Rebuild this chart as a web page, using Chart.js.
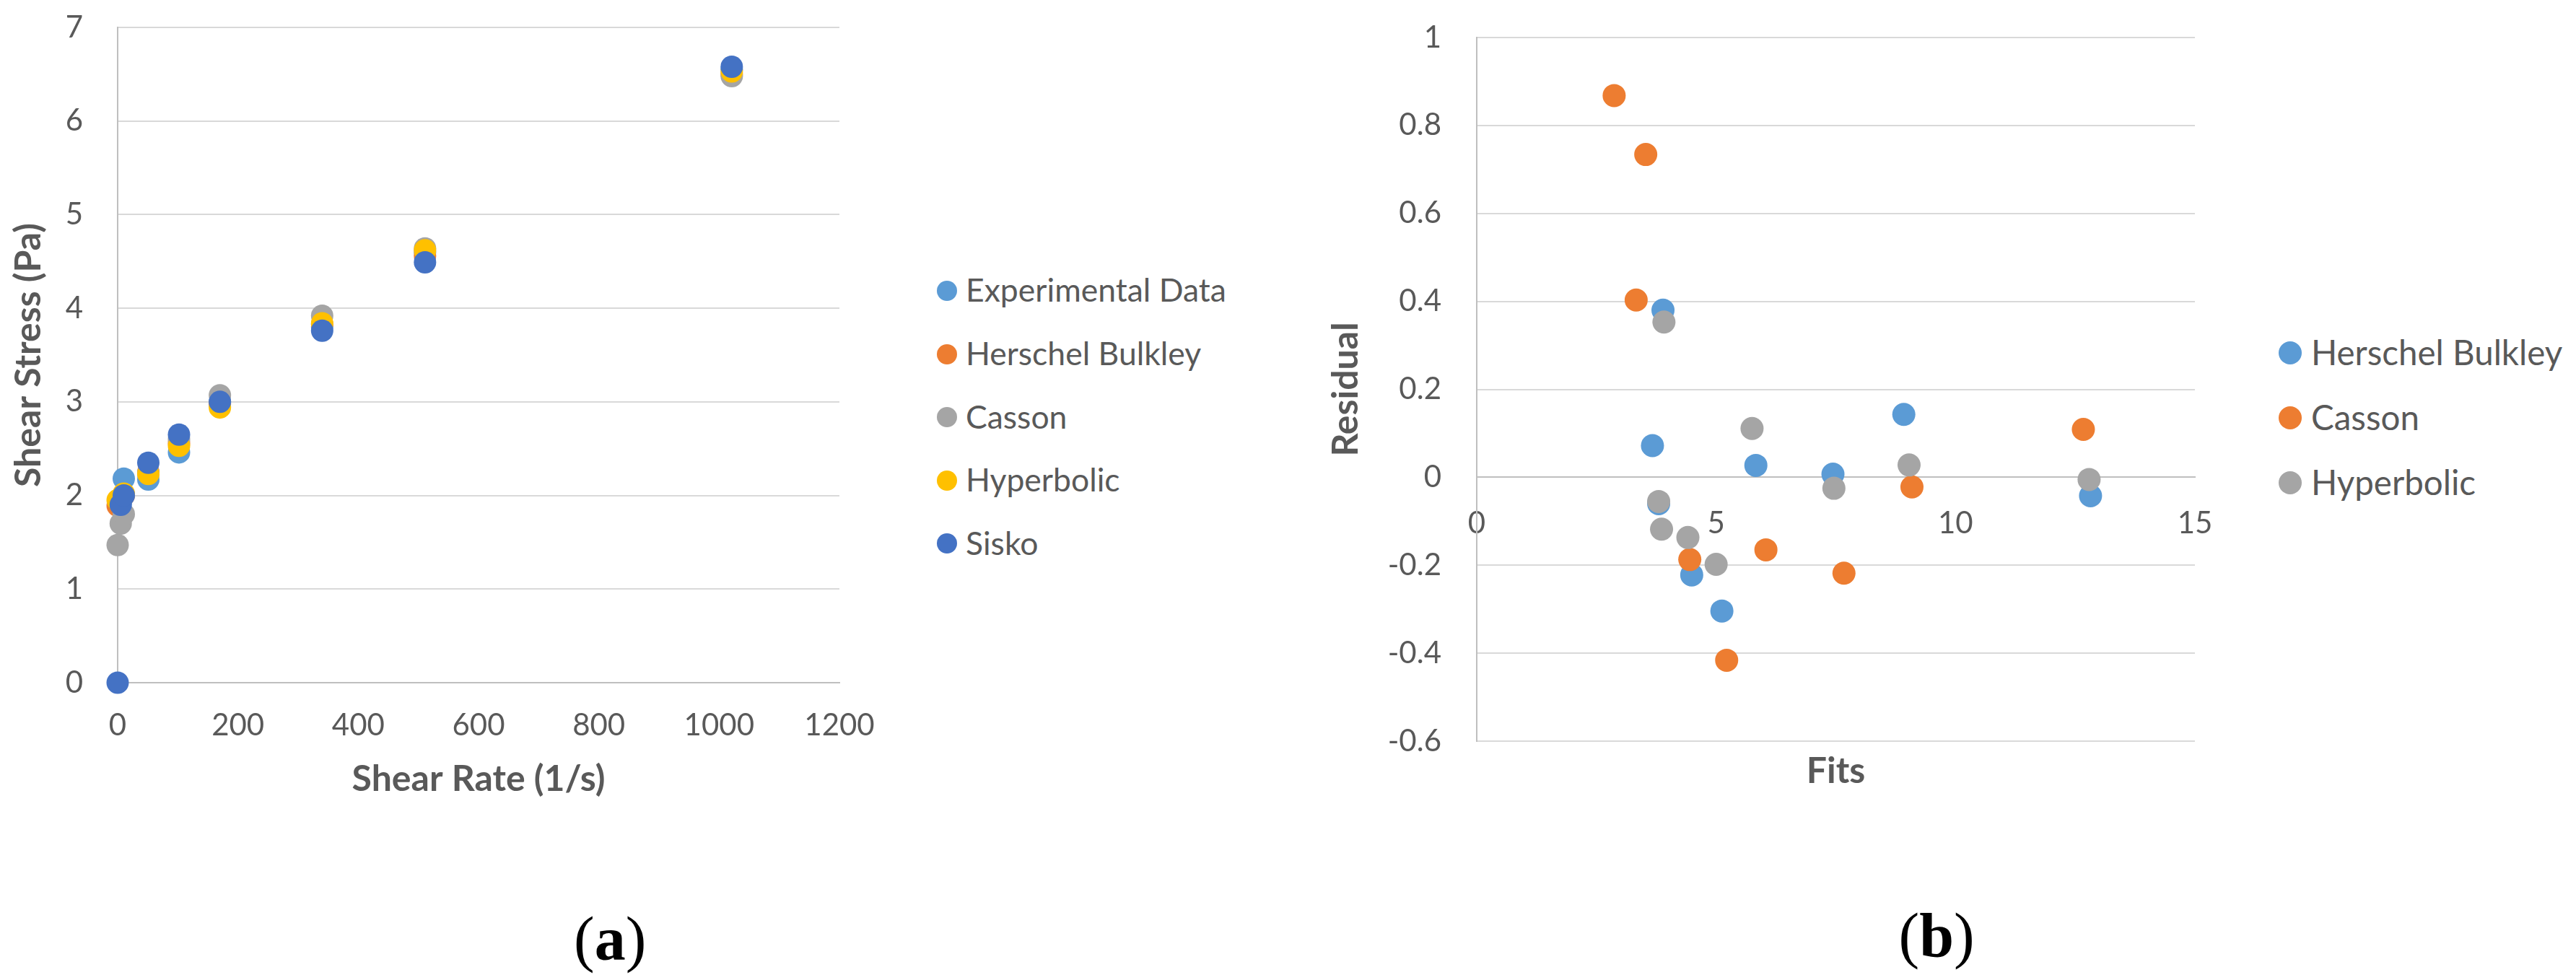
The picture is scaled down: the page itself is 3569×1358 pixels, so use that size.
<!DOCTYPE html>
<html>
<head>
<meta charset="utf-8">
<script src="https://cdn.jsdelivr.net/npm/chart.js@4.4.1/dist/chart.umd.min.js"></script>
<style>
  html, body { margin: 0; padding: 0; background: #fff; }
  body { width: 3569px; height: 1358px; position: relative; overflow: hidden; font-family: Lato, sans-serif; }
  canvas { position: absolute; top: 0; }
  #chartA { left: 0; }
  #chartB { left: 1800px; }
  .leg { position: absolute; color: #595959; white-space: nowrap; line-height: 1; }
  .dot { position: absolute; border-radius: 50%; }
  .cap { position: absolute; font-family: "Liberation Serif", serif; font-size: 86px; line-height: 1; color: #000; white-space: nowrap; }
</style>
</head>
<body>
<canvas id="chartA" width="1250" height="1150"></canvas>
<canvas id="chartB" width="1300" height="1150"></canvas>
<div class="cap" id="capA">(<b>a</b>)</div>
<div class="cap" id="capB">(<b>b</b>)</div>

<script>
// ---- chart (a): shear stress vs shear rate ----
const rateA   = [0, 5.1, 10.2, 51, 102, 170, 340, 511, 1021];
const expA    = [null, 1.93, 2.18, 2.17, 2.46, 3.0, 3.8, 4.6, 6.55];
const hbA     = [1.89, 1.95, 2.0, 2.25, 2.56, 2.98, 3.83, 4.56, 6.5];
const cassonA = [1.47, 1.7, 1.8, 2.24, 2.6, 3.07, 3.92, 4.64, 6.48];
const hypA    = [1.95, 1.97, 2.02, 2.23, 2.53, 2.94, 3.84, 4.62, 6.53];
const siskoA  = [0, 1.9, 2.0, 2.35, 2.65, 3.0, 3.76, 4.49, 6.58];
const namesA  = ["Experimental Data", "Herschel Bulkley", "Casson", "Hyperbolic", "Sisko"];
const xTicksA = [0, 200, 400, 600, 800, 1000, 1200];
const xLabelsA = ["0", "200", "400", "600", "800", "1000", "1200"];
const yTicksA = [0, 1, 2, 3, 4, 5, 6, 7];

// ---- chart (b): residuals vs fits ----
const fitsHB     = [3.67, 3.80, 3.89, 4.49, 5.12, 5.83, 7.44, 8.92, 12.82];
const resHB      = [0.072, -0.06, 0.38, -0.222, -0.304, 0.027, 0.007, 0.143, -0.042];
const fitsCasson = [2.87, 3.33, 3.53, 4.45, 5.22, 6.04, 7.67, 9.09, 12.67];
const resCasson  = [0.868, 0.403, 0.734, -0.187, -0.416, -0.165, -0.218, -0.022, 0.109];
const fitsHyp    = [3.80, 3.86, 3.91, 4.41, 5.00, 5.75, 7.46, 9.03, 12.79];
const resHyp     = [-0.055, -0.118, 0.353, -0.137, -0.198, 0.111, -0.025, 0.028, -0.005];
const namesB  = ["Herschel Bulkley", "Casson", "Hyperbolic"];
const xTicksB = [0, 5, 10, 15];
const yTicksB = [-0.6, -0.4, -0.2, 0, 0.2, 0.4, 0.6, 0.8, 1];
const yLabelsB = ["-0.6", "-0.4", "-0.2", "0", "0.2", "0.4", "0.6", "0.8", "1"];

// styles
const colorsA = ["#5B9BD5", "#ED7D31", "#A5A5A5", "#FFC000", "#4472C4"];
const colorsB = ["#5B9BD5", "#ED7D31", "#A5A5A5"];
const TXT = "#595959";
const GRID = "#D9D9D9";
const AXIS = "#BFBFBF";

function pairs(xs, ys) {
  const out = [];
  xs.forEach((x, i) => { if (ys[i] !== null) out.push({ x: x, y: ys[i] }); });
  return out;
}
function fixTicks(list) {
  return (sc) => { sc.ticks = list.map(v => ({ value: v })); };
}
// fixed axis size, and no extra label padding pushed into the layout
function fixSize(w, h) {
  return (sc) => {
    if (w !== null) sc.width = w;
    if (h !== null) sc.height = h;
    sc.paddingTop = 0; sc.paddingBottom = 0; sc.paddingLeft = 0; sc.paddingRight = 0;
  };
}

// later series drawn on top, like the spreadsheet
function makeSets(dataList, names, colors, radius) {
  return dataList.map((d, i) => ({
    label: names[i],
    data: d,
    xAxisID: "x",
    backgroundColor: colors[i],
    borderWidth: 0,
    pointRadius: radius,
    pointHoverRadius: radius,
    clip: false,
    order: dataList.length - i
  }));
}

const seriesA = [expA, hbA, cassonA, hypA, siskoA].map(s => pairs(rateA, s));
const seriesB = [pairs(fitsHB, resHB), pairs(fitsCasson, resCasson), pairs(fitsHyp, resHyp)];

const tickFont = { family: "Lato", size: 42 };
const titleFont = { family: "Lato", size: 50, weight: "bold" };

new Chart(document.getElementById("chartA"), {
  type: "scatter",
  data: { datasets: makeSets(seriesA, namesA, colorsA, 15.5) },
  options: {
    responsive: false, animation: false, devicePixelRatio: 1,
    layout: { autoPadding: false, padding: { left: 0, top: 38, right: 87, bottom: 0 } },
    plugins: { legend: { display: false }, tooltip: { enabled: false } },
    scales: {
      x: {
        type: "linear", min: 0, max: 1200,
        afterBuildTicks: fixTicks(xTicksA),
        afterFit: fixSize(null, 204),
        grid: { display: false, drawTicks: false },
        border: { color: AXIS, width: 2 },
        ticks: { padding: 34, color: TXT, font: tickFont,
                 callback: (v) => xLabelsA[xTicksA.indexOf(v)] },
        title: { display: true, text: "Shear Rate (1/s)", color: TXT,
                 font: titleFont, padding: { top: 0, bottom: 40 } }
      },
      y: {
        type: "linear", min: 0, max: 7,
        afterBuildTicks: fixTicks(yTicksA),
        afterFit: fixSize(163, null),
        grid: { color: GRID, lineWidth: 2, drawTicks: false },
        border: { color: AXIS, width: 2 },
        ticks: { padding: 48, color: TXT, font: tickFont },
        title: { display: true, text: "Shear Stress (Pa)", color: TXT,
                 font: titleFont, padding: { top: 10, bottom: 0 } }
      }
    }
  }
});

new Chart(document.getElementById("chartB"), {
  type: "scatter",
  data: { datasets: makeSets(seriesB, namesB, colorsB, 16) },
  options: {
    responsive: false, animation: false, devicePixelRatio: 1,
    layout: { autoPadding: false, padding: { left: 0, top: 52, right: 59, bottom: 0 } },
    plugins: { legend: { display: false }, tooltip: { enabled: false } },
    scales: {
      x: {
        type: "linear", min: 0, max: 15,
        afterFit: fixSize(null, 123),
        grid: { display: false, drawTicks: false },
        border: { display: false },
        ticks: { display: false },
        title: { display: true, text: "Fits", color: TXT,
                 font: titleFont, padding: { top: 0, bottom: 51 } }
      },
      x0: {
        axis: "x", type: "linear", min: 0, max: 15,
        position: { y: 0 },
        afterBuildTicks: fixTicks(xTicksB),
        afterFit: fixSize(null, 0),
        grid: { display: false, drawTicks: false },
        border: { color: AXIS, width: 2 },
        ticks: { padding: 39, color: TXT, font: tickFont }
      },
      y: {
        type: "linear", min: -0.6, max: 1,
        afterBuildTicks: fixTicks(yTicksB),
        afterFit: fixSize(246, null),
        grid: { color: GRID, lineWidth: 2, drawTicks: false },
        border: { color: AXIS, width: 2 },
        ticks: { padding: 49, color: TXT, font: tickFont,
                 callback: (v) => yLabelsB[yTicksB.indexOf(v)] },
        title: { display: true, text: "Residual", color: TXT,
                 font: titleFont, padding: { top: 35, bottom: 0 } }
      }
    }
  }
});

// legends (html, built from the series names)
function legend(names, colors, dotX, textX, y0, step, r, size) {
  names.forEach((n, i) => {
    const cy = y0 + i * step;
    const d = document.createElement("div");
    d.className = "dot";
    d.style.cssText = `left:${dotX - r}px;top:${cy - r}px;width:${2 * r}px;height:${2 * r}px;background:${colors[i]}`;
    document.body.appendChild(d);
    const t = document.createElement("div");
    t.className = "leg";
    t.textContent = n;
    t.style.cssText = `left:${textX}px;top:${cy - 0.53 * size}px;font-size:${size}px`;
    document.body.appendChild(t);
  });
}
legend(namesA, colorsA, 1312, 1338, 403, 87.6, 14, 44.5);
legend(namesB, colorsB, 3173, 3202, 489, 90, 16, 47.5);

function placeCap(id, cx, cy) {
  const el = document.getElementById(id);
  el.style.left = (cx - el.offsetWidth / 2) + "px";
  el.style.top = (cy - 0.6 * 86) + "px";
}
placeCap("capA", 845, 1310);
placeCap("capB", 2683, 1305);
</script>
</body>
</html>
